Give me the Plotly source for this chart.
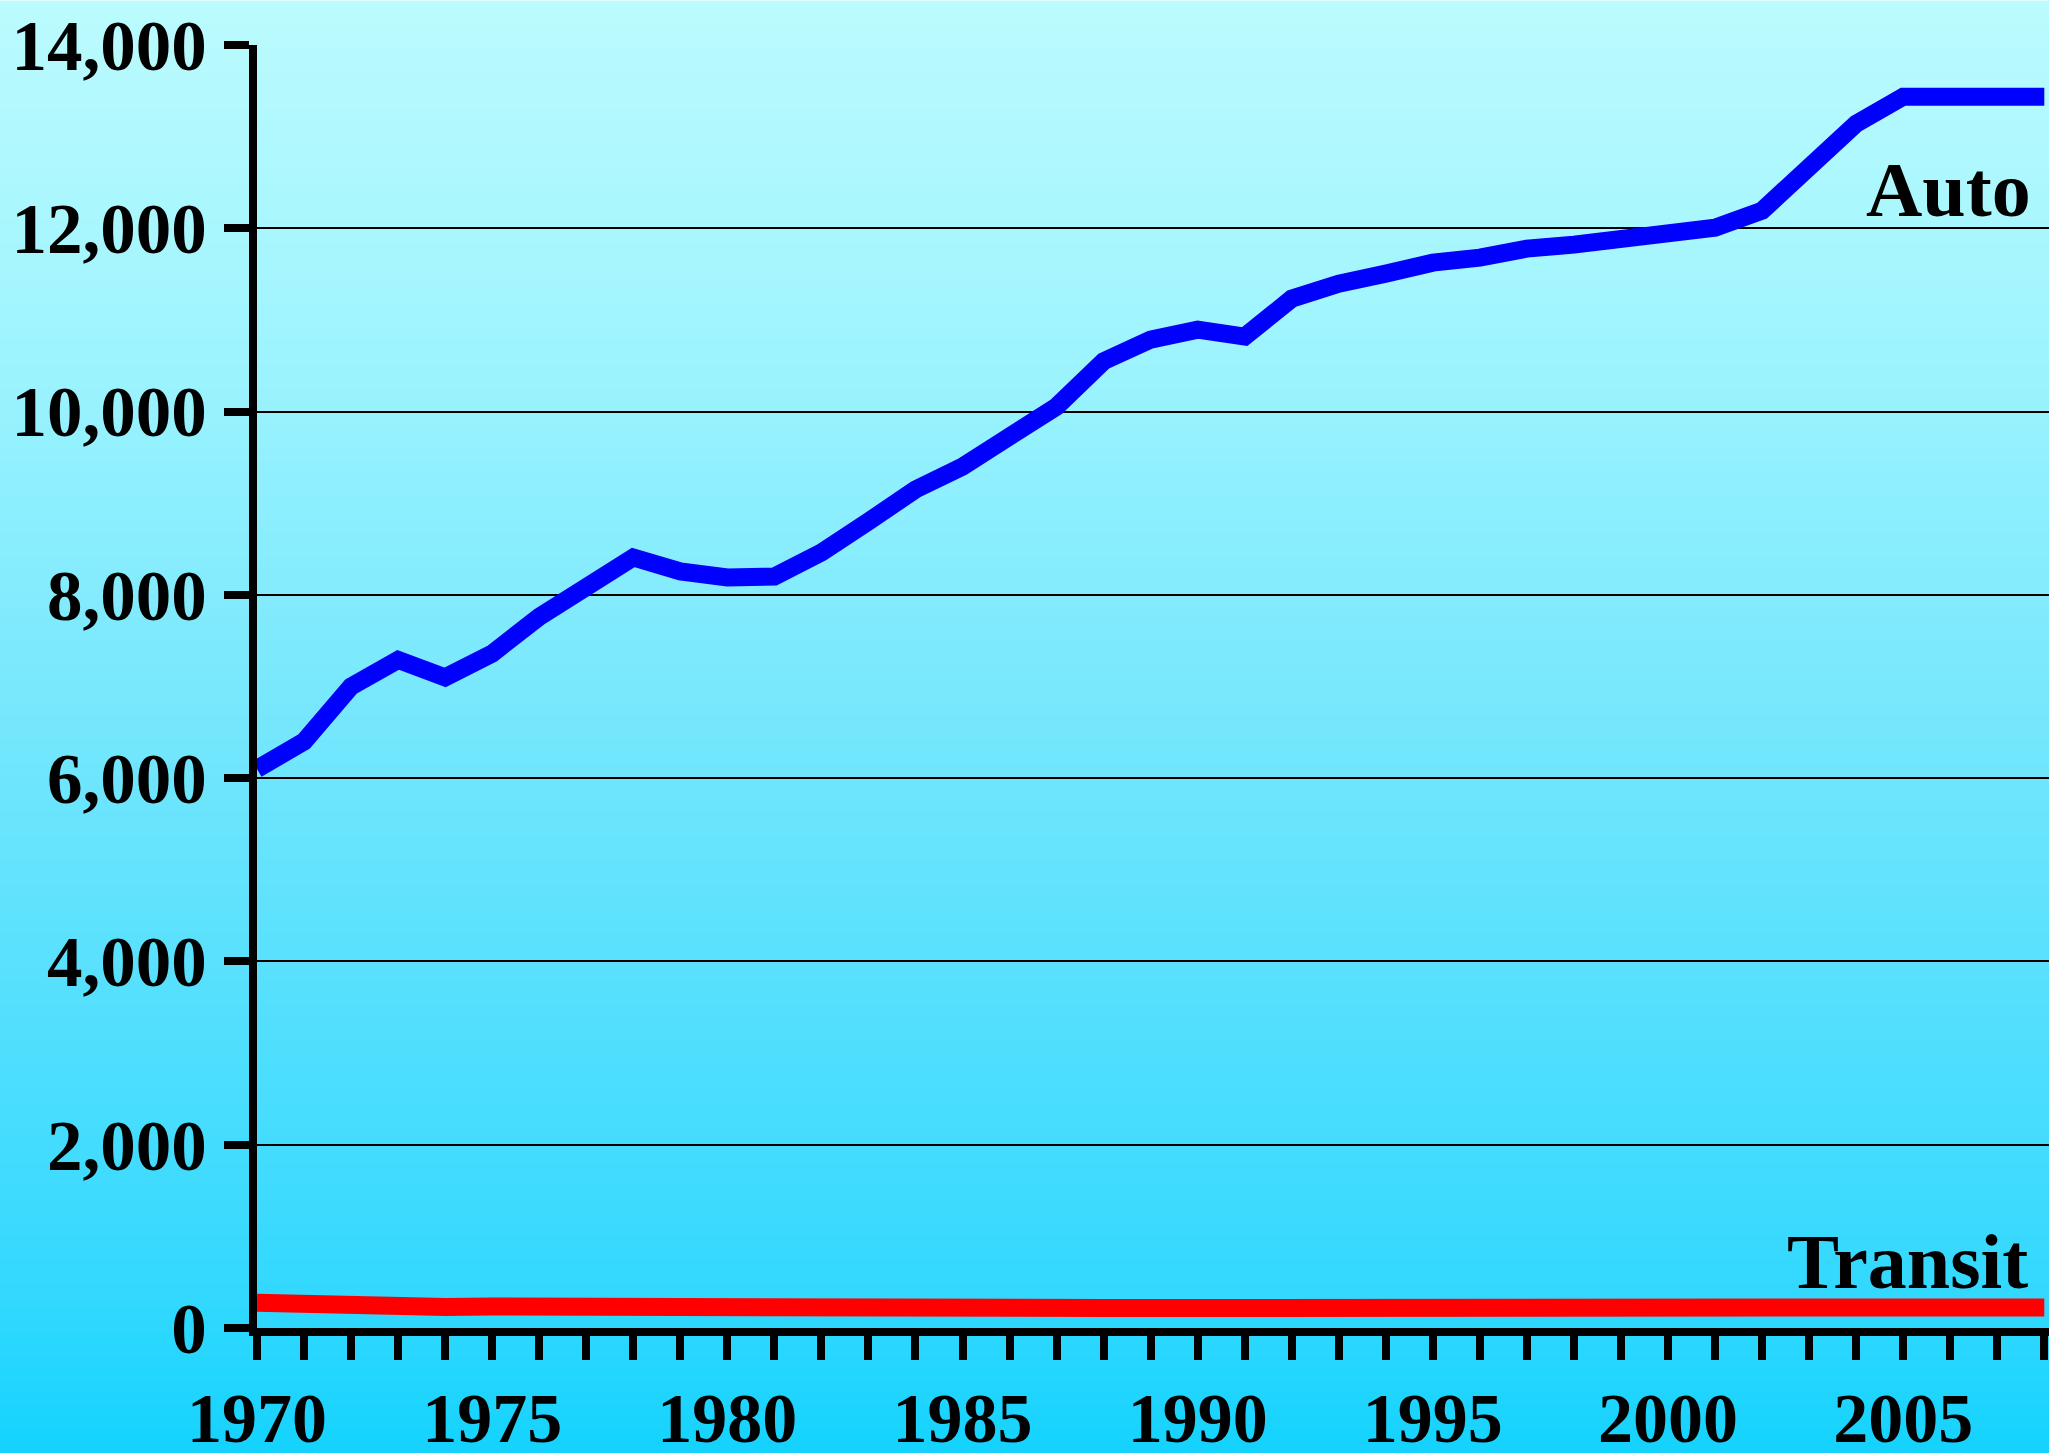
import plotly.graph_objects as go

years = list(range(1970, 2009))
auto = [6100, 6400, 7000, 7290, 7100, 7360, 7760, 8070, 8408, 8255,
        8190, 8200, 8462, 8800, 9150, 9400, 9705, 10055, 10550, 10785,
        10894, 10818, 11232, 11396, 11505, 11625, 11680, 11778, 11822, 11887,
        11952, 12006, 12192, 12639, 13141, 13435, 13446, 13435, 13435]
transit = [275, 255, 235, 230, 230, 235, 230, 225, 225, 230,
           235, 230, 215, 210, 220, 225, 220, 220, 218, 218,
           218, 215, 210, 205, 200, 198, 200, 202, 205, 205,
           210, 212, 210, 205, 208, 210, 215, 215, 225]
y_ticks = [0, 2000, 4000, 6000, 8000, 10000, 12000, 14000]
x_ticks = [1970, 1975, 1980, 1985, 1990, 1995, 2000, 2005]

W, H = 2049, 1453
ML, MR, MT, MB = 257, 0, 44.5, 125
FONT = "Liberation Serif"

fig = go.Figure()
fig.add_trace(go.Scatter(x=years, y=auto, mode="lines", name="Auto",
                         line=dict(color="#0000ff", width=18)))
fig.add_trace(go.Scatter(x=years, y=transit, mode="lines", name="Transit",
                         line=dict(color="#ff0000", width=18)))

# gradient background built from horizontal bands (pixel stops -> colours)
stops = [(0, (188, 251, 254)), (350, (158, 244, 254)), (715, (118, 231, 253)),
         (1300, (50, 216, 254)), (1453, (20, 211, 254))]
ph = H - MT - MB
pw = W - ML - MR
def col_at(py):
    for (a, ca), (b, cb) in zip(stops[:-1], stops[1:]):
        if a <= py <= b:
            t = (py - a) / (b - a)
            return tuple(round(ca[i] + (cb[i] - ca[i]) * t) for i in range(3))
    return stops[-1][1]
n = 120
shapes = []
for i in range(n):
    p0 = H * i / n
    p1 = H * (i + 1) / n + 1
    c = col_at((p0 + p1) / 2)
    shapes.append(dict(type="rect", xref="paper", yref="paper", layer="below",
                       x0=-ML / pw - 0.01, x1=1 + MR / pw + 0.01,
                       y0=1 - (p1 - MT) / ph, y1=1 - (p0 - MT) / ph,
                       fillcolor="rgb(%d,%d,%d)" % c, line=dict(width=0)))

fig.update_layout(
    width=W, height=H,
    margin=dict(l=ML, r=MR, t=MT, b=MB, pad=0, autoexpand=False),
    paper_bgcolor="rgba(0,0,0,0)", plot_bgcolor="rgba(0,0,0,0)",
    showlegend=False,
    shapes=shapes,
    font=dict(family=FONT, color="black"),
    xaxis=dict(range=[1970, 2008.1], tickmode="array", tickvals=x_ticks,
               ticktext=[str(v) for v in x_ticks], automargin=False,
               ticks="outside", ticklen=24, tickwidth=8, tickcolor="black",
               showline=True, linewidth=8, linecolor="black", showgrid=False,
               zeroline=False, ticklabelstandoff=-2,
               minor=dict(tickmode="linear", tick0=1970, dtick=1, ticks="outside",
                          ticklen=24, tickwidth=8, tickcolor="black", showgrid=False),
               tickfont=dict(family=FONT, size=70, weight="bold", color="black")),
    yaxis=dict(range=[0, 14000], tickmode="array", tickvals=y_ticks,
               ticktext=[f"{v:,}" for v in y_ticks], automargin=False,
               ticks="outside", ticklen=25, tickwidth=8, tickcolor="black",
               showline=True, linewidth=8, linecolor="black",
               showgrid=True, gridcolor="black", gridwidth=1.5, zeroline=False,
               ticklabelstandoff=3,
               tickfont=dict(family=FONT, size=71, weight="bold", color="black")),
    annotations=[
        dict(x=2007.75, y=12420, xref="x", yref="y", text="Auto", showarrow=False,
             xanchor="right", yanchor="middle",
             font=dict(family=FONT, size=78, weight="bold", color="black")),
        dict(x=2007.7, y=731, xref="x", yref="y", text="Transit", showarrow=False,
             xanchor="right", yanchor="middle",
             font=dict(family=FONT, size=78, weight="bold", color="black")),
    ],
)
fig.write_html("out.html", config={"displayModeBar": False},
               post_script="document.body.style.margin='0px';document.body.style.overflow='hidden';")
